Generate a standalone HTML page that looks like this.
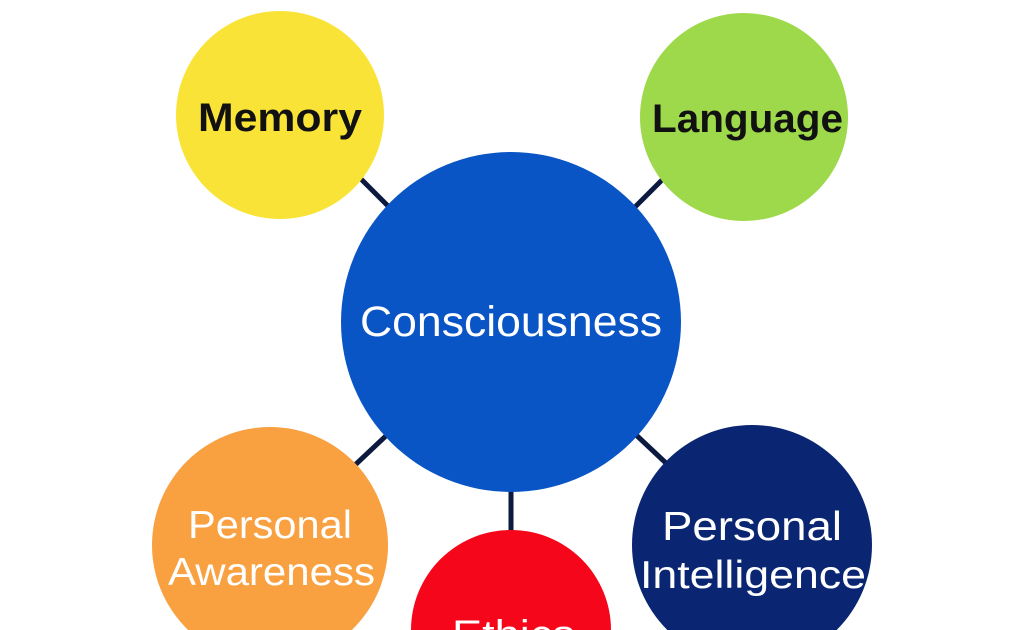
<!DOCTYPE html>
<html><head><meta charset="utf-8"><style>
html,body{margin:0;padding:0;background:#fff;width:1024px;height:630px;overflow:hidden}
svg{display:block}
text{font-family:"Liberation Sans","DejaVu Sans",sans-serif}
</style></head><body>
<svg width="1024" height="630" viewBox="0 0 1024 630" style="overflow:hidden">
<g stroke="#0b1a3e" stroke-width="5">
<line x1="360" y1="178" x2="392" y2="210"/>
<line x1="664" y1="178" x2="632" y2="210"/>
<line x1="389" y1="433" x2="354" y2="466"/>
<line x1="634" y1="433" x2="667" y2="464"/>
<line x1="511" y1="485" x2="511" y2="532"/>
</g>
<circle cx="280" cy="115" r="104" fill="#fae337"/>
<circle cx="744" cy="117" r="104" fill="#9dd94a"/>
<circle cx="511" cy="322" r="170" fill="#0a55c5"/>
<circle cx="270" cy="545" r="118" fill="#f9a040"/>
<circle cx="752" cy="545" r="120" fill="#0a2672"/>
<circle cx="511" cy="630" r="100" fill="#f5061a"/>
<text x="198" y="131" textLength="164" lengthAdjust="spacingAndGlyphs" font-size="40" font-weight="bold" fill="#111">Memory</text>
<text x="652" y="132" textLength="191" lengthAdjust="spacingAndGlyphs" font-size="40" font-weight="bold" fill="#111">Language</text>
<text x="360" y="336" textLength="302" lengthAdjust="spacingAndGlyphs" font-size="43" fill="#fff">Consciousness</text>
<text x="188" y="538" textLength="164" lengthAdjust="spacingAndGlyphs" font-size="39" fill="#fff">Personal</text>
<text x="168" y="585" textLength="207" lengthAdjust="spacingAndGlyphs" font-size="39" fill="#fff">Awareness</text>
<text x="662" y="540" textLength="180" lengthAdjust="spacingAndGlyphs" font-size="41" fill="#fff">Personal</text>
<text x="640" y="588" textLength="226" lengthAdjust="spacingAndGlyphs" font-size="39" fill="#fff">Intelligence</text>
<text x="452" y="648" textLength="123" lengthAdjust="spacingAndGlyphs" font-size="40" fill="#fff">Ethics</text>
</svg>
</body></html>
